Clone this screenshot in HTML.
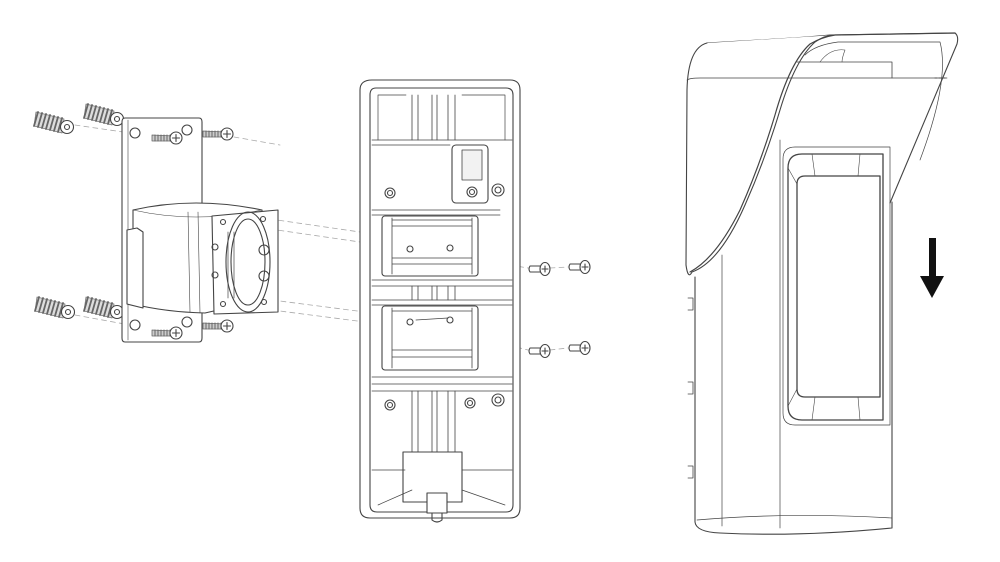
<!DOCTYPE html>
<html><head><meta charset="utf-8"><style>
html,body{margin:0;padding:0;background:#fff;width:1000px;height:562px;overflow:hidden}
svg{display:block}
</style></head><body>
<svg width="1000" height="562" viewBox="0 0 1000 562" xmlns="http://www.w3.org/2000/svg" fill="none" stroke="#444" stroke-width="1.1" stroke-linejoin="round" stroke-linecap="round">
<defs>
<g id="anc">
<path d="M0 -3 L28 4 L26 18 L-2 11 Z" fill="#ddd" stroke="#777" stroke-width="0.8"/>
<path d="M2 -3 l-4 14 M6 -2 l-4 14 M10 -1 l-4 14 M14 0 l-4 14 M18 1 l-4 14 M22 2 l-4 14 M26 3 l-4 14" stroke="#666" stroke-width="1.8"/>
<circle cx="31" cy="12" r="6.5" fill="#fff"/><circle cx="31" cy="12" r="2.5"/>
</g>
<g id="scr">
<path d="M0 -3 L22 -2 L22 3 L0 3 Z" fill="#ccc" stroke="#666" stroke-width="0.8"/>
<path d="M3 -3v6 M6 -3v6 M9 -3v6 M12 -3v6 M15 -3v6 M18 -3v6" stroke="#666" stroke-width="1"/>
<circle cx="24" cy="0" r="6" fill="#fff"/><path d="M20.5 0h7 M24 -3.5v7"/>
</g>
<g id="ss">
<path d="M0 -3 L12 -3 L12 3 L0 3 Q-2 0 0 -3 Z" fill="#fff"/>
<ellipse cx="15" cy="0" rx="5" ry="6.5" fill="#fff"/><path d="M12 0h6 M15 -3v6"/>
</g>
</defs>
<g stroke="#aaa" stroke-width="0.8" stroke-dasharray="5,4">
<line x1="75" y1="125" x2="130" y2="133"/>
<line x1="124" y1="122" x2="185" y2="130"/>
<line x1="75" y1="315" x2="130" y2="325"/>
<line x1="124" y1="315" x2="185" y2="322"/>
<line x1="234" y1="137" x2="280" y2="145"/>
<line x1="270" y1="219" x2="360" y2="232"/>
<line x1="270" y1="229" x2="360" y2="242"/>
<line x1="272" y1="300" x2="365" y2="312"/>
<line x1="272" y1="310" x2="365" y2="322"/>
<line x1="412" y1="249" x2="528" y2="268"/>
<line x1="550" y1="268" x2="568" y2="267"/>
<line x1="412" y1="321" x2="528" y2="350"/>
<line x1="550" y1="350" x2="568" y2="348"/>
</g>
<use href="#anc" x="36" y="115"/>
<use href="#anc" x="86" y="107"/>
<use href="#anc" x="37" y="300"/>
<use href="#anc" x="86" y="300"/>
<path d="M125 118 L199 118 Q202 118 202 122 L202 338 Q202 342 199 342 L125 342 Q122 342 122 338 L122 122 Q122 118 125 118 Z" fill="#fff"/>
<line x1="128" y1="120" x2="128" y2="340" stroke-width="0.6"/>
<circle cx="135" cy="133" r="5"/><circle cx="187" cy="130" r="5"/>
<circle cx="135" cy="325" r="5"/><circle cx="187" cy="322" r="5"/>
<use href="#scr" x="152" y="138"/>
<use href="#scr" x="203" y="134"/>
<use href="#scr" x="152" y="333"/>
<use href="#scr" x="203" y="326"/>
<path d="M133 210 Q195 196 262 210 L262 300 L205 313 Q165 312 133 304 Z" fill="#fff"/>
<path d="M133 210 Q195 224 262 210" stroke-width="0.6"/>
<path d="M127 230 L137 228 L143 232 L143 308 L127 304 Z" fill="#fff"/>
<path d="M188 212 L190 312 M198 212 L200 313" stroke-width="0.6"/>
<path d="M212 216 L278 210 L278 312 L214 314 Z" fill="#fff"/>
<ellipse cx="248" cy="262" rx="22" ry="50"/>
<ellipse cx="248" cy="262" rx="17" ry="43"/>
<circle cx="223" cy="222" r="2.5"/><circle cx="263" cy="219" r="2.5"/>
<circle cx="223" cy="304" r="2.5"/><circle cx="264" cy="302" r="2.5"/>
<circle cx="264" cy="250" r="5"/><circle cx="264" cy="276" r="5"/>
<circle cx="215" cy="247" r="3"/><circle cx="215" cy="275" r="3"/>
<path d="M228 232 L228 298 M234 232 L234 298" stroke-width="0.7"/>
<path d="M372 80 L510 80 Q520 80 520 90 L520 508 Q520 518 510 518 L370 518 Q360 518 360 508 L360 90 Q360 80 372 80 Z" fill="#fff"/>
<path d="M376 88 L506 88 Q513 88 513 95 L513 505 Q513 512 506 512 L377 512 Q370 512 370 505 L370 95 Q370 88 376 88 Z"/>
<path d="M378 95 L406 95 M462 95 L505 95 M378 95 L378 140 M505 95 L505 140" stroke-width="0.7"/>
<path d="M378 505 L412 490 M505 505 L462 490" stroke-width="0.7"/>
<path d="M372 140 L512 140 M372 145 L450 145 M372 210 L500 210 M372 215 L500 215 M372 280 L512 280 M372 286 L512 286 M372 300 L512 300 M372 305 L512 305 M372 377 L512 377 M372 384 L512 384 M372 391 L512 391 M372 470 L405 470 M462 470 L512 470" stroke-width="0.8"/>
<path d="M412 95 L412 140 M418 95 L418 140 M432 95 L432 140 M437 95 L437 140 M448 95 L448 140 M455 95 L455 140" stroke-width="0.8"/>
<path d="M412 286 L412 300 M418 286 L418 300 M432 286 L432 300 M437 286 L437 300 M448 286 L448 300 M455 286 L455 300" stroke-width="0.8"/>
<path d="M412 391 L412 452 M418 391 L418 452 M432 391 L432 452 M437 391 L437 452 M448 391 L448 452 M455 391 L455 452" stroke-width="0.8"/>
<rect x="382" y="216" width="96" height="60" rx="3"/>
<path d="M392 220 L472 220 M392 226 L472 226 M392 258 L472 258 M392 264 L472 264 M392 218 L392 274 M472 218 L472 274" stroke-width="0.8"/>
<circle cx="410" cy="249" r="3"/><circle cx="450" cy="248" r="3"/>
<rect x="382" y="306" width="96" height="64" rx="3"/>
<path d="M392 311 L472 311 M392 350 L472 350 M392 357 L472 357 M392 308 L392 368 M472 308 L472 368 M416 320 L448 318" stroke-width="0.8"/>
<circle cx="410" cy="322" r="3"/><circle cx="450" cy="320" r="3"/>
<rect x="452" y="145" width="36" height="58" rx="4"/>
<rect x="462" y="150" width="20" height="30" fill="#f2f2f2" stroke-width="0.8"/>
<circle cx="390" cy="193" r="5"/><circle cx="390" cy="193" r="2.5"/>
<circle cx="472" cy="192" r="5"/><circle cx="472" cy="192" r="2.5"/>
<circle cx="498" cy="190" r="6"/><circle cx="498" cy="190" r="3"/>
<circle cx="390" cy="405" r="5"/><circle cx="390" cy="405" r="2.5"/>
<circle cx="470" cy="403" r="5"/><circle cx="470" cy="403" r="2.5"/>
<circle cx="498" cy="400" r="6"/><circle cx="498" cy="400" r="3"/>
<rect x="403" y="452" width="59" height="50"/>
<rect x="427" y="493" width="20" height="20" fill="#fff"/>
<path d="M432 513 L432 520 Q437 524 442 520 L442 513"/>
<use href="#ss" x="530" y="269"/>
<use href="#ss" x="570" y="267"/>
<use href="#ss" x="530" y="351"/>
<use href="#ss" x="570" y="348"/>
<path d="M695 277 L695 522 Q696 532 720 533 Q800 537 892 528 L892 202" fill="#fff"/>
<path d="M722 255 L722 526 M780 140 L780 528" stroke-width="0.7"/>
<path d="M697 520 Q790 512 892 518" stroke-width="0.7"/>
<path d="M688 298 h5 v12 h-5 M688 382 h5 v12 h-5 M688 466 h5 v12 h-5" stroke-width="0.8"/>
<path d="M795 147 L890 147 L890 425 L795 425 Q783 425 783 413 L783 159 Q783 147 795 147 Z" stroke-width="0.7"/>
<path d="M802 154 L883 154 L883 420 L802 420 Q788 420 788 406 L788 168 Q788 154 802 154 Z" stroke-width="1.3"/>
<path d="M805 176 L880 176 L880 397 L805 397 Q797 397 797 389 L797 184 Q797 176 805 176 Z" stroke-width="1.3"/>
<path d="M788 168 L797 184 M788 406 L797 389 M812 154 L815 176 M860 154 L858 176 M812 420 L815 397 M860 420 L858 397" stroke-width="0.6"/>
<path d="M707 43 Q800 38 830 35 L955 33 Q959 36 957 44 L890 203" fill="none"/>
<path d="M707 43 Q688 48 687 90 L686 265 Q688 280 692 272 Q720 262 745 205 Q765 160 780 110 Q795 60 815 42 Q825 35 835 35" fill="#fff"/>
<path d="M690 272 Q716 258 740 210 Q760 165 775 115 Q790 62 810 44 Q822 37 835 35 L955 33" stroke-width="1.2"/>
<path d="M687 80 Q690 78 700 78 L947 78" stroke-width="0.7"/>
<path d="M935 78 L947 78" stroke-dasharray="2,2"/>
<path d="M797 62 L892 62 L892 78" stroke-width="0.8"/>
<path d="M805 55 Q815 45 838 42 L940 42 Q950 80 920 160" stroke-width="0.7"/>
<path d="M820 62 Q830 48 845 50 Q842 58 842 62" stroke-width="0.6"/>
<rect x="929" y="238" width="7" height="40" fill="#111" stroke="none"/>
<path d="M920 276 L944 276 L932 298 Z" fill="#111" stroke="none"/>
</svg>
</body></html>
